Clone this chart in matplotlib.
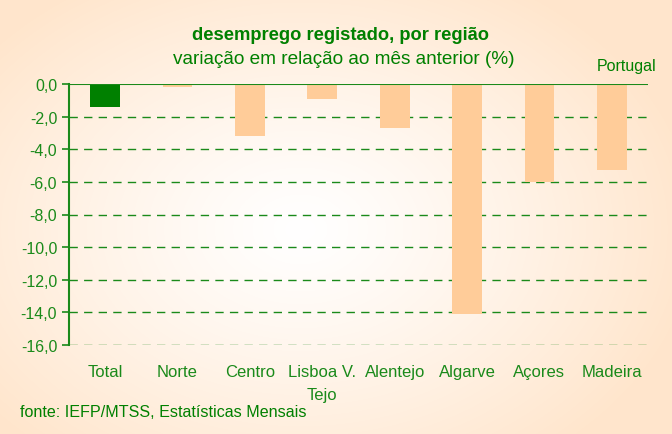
import numpy as np
import matplotlib
matplotlib.use("Agg")
import matplotlib.pyplot as plt

plt.rcParams['font.family'] = ['Liberation Sans', 'DejaVu Sans']

# data
regions = ["Total", "Norte", "Centro", "Lisboa V.\nTejo", "Alentejo", "Algarve", "Açores", "Madeira"]
variation = [-1.4, -0.2, -3.2, -0.9, -2.7, -14.1, -6.0, -5.3]
yticks = [0, -2, -4, -6, -8, -10, -12, -14, -16]

green = "#1a8a1a"
peach = "#ffcc99"

fig = plt.figure(figsize=(6.72, 4.35), dpi=100)

# radial gradient background
bg = fig.add_axes([0, 0, 1, 1], zorder=0)
yy, xx = np.mgrid[0:435, 0:672]
r = np.sqrt(((xx - 300) / 400.0) ** 2 + ((yy - 230) / 290.0) ** 2)
r = np.clip(r, 0, 1)
c0 = np.array([1.0, 1.0, 1.0])
c1 = np.array([1.0, 0.9, 0.8])
img = c0 + (c1 - c0) * r[..., None] ** 1.2
bg.imshow(img, aspect="auto", extent=[0, 672, 435, 0])
bg.axis("off")

ax = fig.add_axes([69 / 672, 1 - 346 / 435, (648 - 69) / 672, (346 - 85) / 435], zorder=1)
ax.patch.set_alpha(0)

x = np.arange(len(regions))
colors = ["#008000"] + [peach] * (len(regions) - 1)
ax.bar(x, variation, width=0.41, color=colors, zorder=3)

ax.set_xlim(-0.5, len(regions) - 0.5)
ax.set_ylim(-16, 0)
ax.set_yticks(yticks)
ax.set_yticklabels([f"{v:.1f}".replace(".", ",") for v in yticks], color=green, fontsize=11.5)
ax.set_xticks(x)
ax.set_xticklabels(regions, color=green, fontsize=12, linespacing=1.6)
ax.tick_params(axis="x", length=0, pad=14)
ax.tick_params(axis="y", colors=green, length=5, width=1.2, direction="out")

for v in yticks[1:]:
    ax.axhline(v, color=green, linestyle=(0, (6, 4.5)), linewidth=1, zorder=1)
ax.axhline(0, color=green, linewidth=1.5, zorder=4)

for s in ["top", "right", "bottom"]:
    ax.spines[s].set_visible(False)
ax.spines["left"].set_color(green)
ax.spines["left"].set_linewidth(1.5)

fig.text(340 / 672, 1 - 36 / 435, "desemprego registado, por região", ha="center", va="center",
         color="#008000", fontsize=13.2, fontweight="bold")
fig.text(344 / 672, 1 - 60 / 435, "variação em relação ao mês anterior (%)", ha="center", va="center",
         color="#008000", fontsize=13.7)
fig.text(627 / 672, 1 - 67 / 435, "Portugal", ha="center", va="center", color="#008000", fontsize=11.5)
fig.text(20 / 672, 1 - 413 / 435, "fonte: IEFP/MTSS, Estatísticas Mensais", ha="left", va="center",
         color="#008000", fontsize=11.6)

fig.savefig("out.png", dpi=100)
